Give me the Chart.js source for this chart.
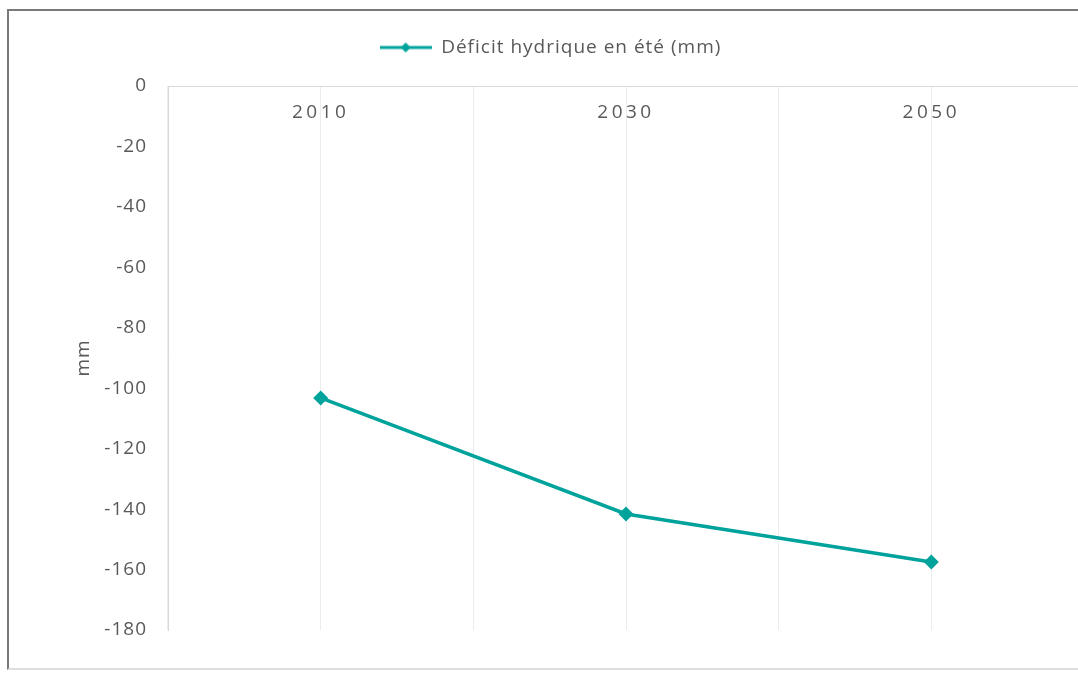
<!DOCTYPE html>
<html>
<head>
    <meta charset="utf-8">
    <style>
        html, body {
            margin: 0;
            padding: 0;
            background: #fff;
            overflow: hidden;
            width: 1078px;
            height: 673px;
        }
        .frame {
            position: absolute;
            left: 7px;
            top: 9px;
            width: 1100px;
            height: 657px;
            border-top: 2px solid #7a7a7a;
            border-left: 2px solid #7a7a7a;
            border-bottom: 2px solid #dedede;
        }
        .chartBox {
            position: absolute;
            left: 0;
            top: 0;
            width: 1086px;
            height: 657px;
        }
    </style>
    <script src="https://cdn.jsdelivr.net/npm/chart.js"></script>
</head>
<body>
    <div class="frame">
        <div class="chartBox"><canvas id="myChart"></canvas></div>
    </div>
    <script>
        // data
        var years = ['2010', '2030', '2050'];
        var deficit = [-103.2, -141.6, -157.5];
        var seriesName = 'Déficit hydrique en été (mm)';
        var yMin = -180, yMax = 0, yStep = 20;

        var teal = '#00a39b';
        var grey = '#595959';
        var font = '"Open Sans", "Noto Sans", sans-serif';

        // legend symbol: a short line with a small diamond in the middle
        var legendMark = document.createElement('canvas');
        legendMark.width = 52;
        legendMark.height = 14;
        var lc = legendMark.getContext('2d');
        lc.strokeStyle = teal;
        lc.lineWidth = 3;
        lc.beginPath();
        lc.moveTo(0, 7);
        lc.lineTo(52, 7);
        lc.stroke();
        lc.fillStyle = teal;
        lc.beginPath();
        lc.moveTo(26, 2);
        lc.lineTo(31, 7);
        lc.lineTo(26, 12);
        lc.lineTo(21, 7);
        lc.closePath();
        lc.fill();

        // a bit of letter spacing everywhere, wider on the year labels
        var spacedText = {
            id: 'spacedText',
            beforeUpdate: function(chart) {
                chart.ctx.letterSpacing = '1px';
            },
            beforeDraw: function(chart) {
                chart.ctx.letterSpacing = '1px';
                var sc = chart.scales.x;
                if (sc && !sc._spaced) {
                    var orig = sc.drawLabels;
                    sc.drawLabels = function(area) {
                        var ctx = this.ctx;
                        var prev = ctx.letterSpacing;
                        ctx.letterSpacing = '3.5px';
                        orig.call(this, area);
                        ctx.letterSpacing = prev;
                    };
                    sc._spaced = true;
                }
            }
        };

        var legendHeight = {
            id: 'legendHeight',
            beforeInit: function(chart) {
                var fit = chart.legend.fit;
                chart.legend.fit = function() {
                    fit.bind(chart.legend)();
                    this.height = 75;
                };
            }
        };

        var ctx = document.getElementById('myChart').getContext('2d');
        var myChart = new Chart(ctx, {
            type: 'line',
            data: {
                labels: years,
                datasets: [{
                    label: seriesName,
                    data: deficit,
                    borderColor: teal,
                    backgroundColor: teal,
                    borderWidth: 3.5,
                    pointStyle: 'rectRot',
                    pointRadius: 7.5,
                    pointBorderWidth: 0,
                    tension: 0,
                    fill: false
                }]
            },
            options: {
                responsive: true,
                maintainAspectRatio: false,
                animation: false,
                layout: {
                    padding: { left: 8, right: 11, top: 0, bottom: 38 }
                },
                plugins: {
                    tooltip: { enabled: false },
                    legend: {
                        position: 'top',
                        labels: {
                            usePointStyle: true,
                            pointStyle: legendMark,
                            pointStyleWidth: 52,
                            padding: 27,
                            color: grey,
                            font: { family: font, size: 19 }
                        }
                    }
                },
                scales: {
                    x: {
                        type: 'category',
                        position: { y: 0 },
                        offset: true,
                        grid: { display: true, offset: false, color: '#ececec', drawTicks: false },
                        border: { display: true, color: '#d9d9d9' },
                        ticks: { color: grey, padding: 15, font: { family: font, size: 19 } }
                    },
                    x2: {
                        type: 'category',
                        labels: years,
                        position: { y: 0 },
                        offset: true,
                        grid: { display: true, offset: true, color: '#ececec', drawTicks: false },
                        border: { display: false },
                        ticks: { display: false }
                    },
                    y: {
                        min: yMin,
                        max: yMax,
                        ticks: { stepSize: yStep, color: grey, padding: 21, font: { family: font, size: 19 } },
                        grid: { display: false, drawTicks: false },
                        border: { display: true, color: '#d9d9d9' },
                        title: {
                            display: true,
                            text: 'mm',
                            color: grey,
                            padding: { top: 55.6, bottom: 0 },
                            font: { family: font, size: 19 }
                        },
                        afterFit: function(scale) { scale.width = 151; }
                    }
                }
            },
            plugins: [spacedText, legendHeight]
        });
    </script>
</body>
</html>
